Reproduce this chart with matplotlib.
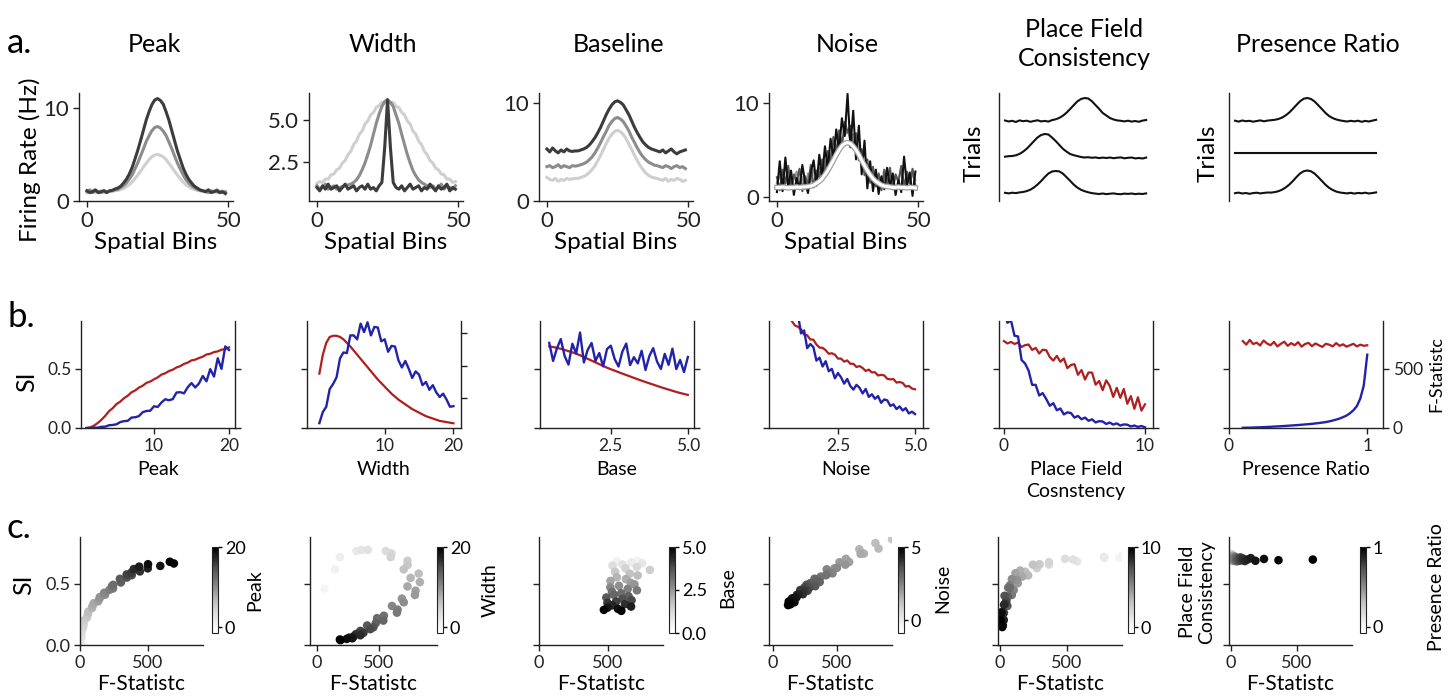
import matplotlib.pyplot as plt
import matplotlib.patheffects as pe
import numpy as np

plt.rcParams['font.family'] = ['Lato', 'DejaVu Sans']
plt.rcParams['axes.linewidth'] = 1.0
plt.rcParams['axes.edgecolor'] = '#222222'

RED = '#b01e1e'
BLUE = '#2222aa'

# ---------------- row a: example tuning curves ----------------
bins = np.arange(50)

peak_dark = [1.1, 0.9, 1.0, 1.2, 0.9, 1.0, 1.1, 0.9, 1.1, 1.15,
             1.3, 1.4, 1.6, 1.95, 2.35, 2.9, 3.6, 4.5, 5.45, 6.5,
             7.6, 8.7, 9.6, 10.35, 10.85, 11.0, 10.8, 10.4, 9.6, 8.7,
             7.6, 6.5, 5.4, 4.5, 3.6, 2.9, 2.35, 1.95, 1.6, 1.4,
             1.2, 1.1, 1.0, 1.2, 0.9, 1.0, 1.1, 0.9, 1.0, 0.8]
peak_mid = [1.0, 1.2, 0.9, 1.1, 1.0, 0.9, 1.1, 1.0, 1.05, 1.1,
            1.2, 1.25, 1.45, 1.65, 1.95, 2.35, 2.8, 3.45, 4.1, 4.85,
            5.6, 6.4, 7.0, 7.55, 7.9, 8.0, 7.85, 7.5, 7.05, 6.35,
            5.65, 4.85, 4.1, 3.45, 2.85, 2.3, 1.95, 1.65, 1.45, 1.25,
            1.15, 1.1, 1.0, 0.9, 1.1, 1.0, 1.2, 1.0, 0.9, 1.0]
peak_light = [0.9, 1.0, 1.1, 0.9, 1.0, 1.1, 0.9, 1.0, 1.0, 1.05,
              1.1, 1.15, 1.25, 1.35, 1.55, 1.75, 2.05, 2.4, 2.8, 3.2,
              3.65, 4.05, 4.45, 4.75, 4.95, 5.0, 4.9, 4.75, 4.45, 4.05,
              3.65, 3.2, 2.8, 2.4, 2.05, 1.75, 1.55, 1.35, 1.25, 1.15,
              1.1, 1.0, 1.1, 0.9, 1.0, 1.1, 0.9, 1.0, 1.1, 0.9]

width_narrow = [1.0, 0.8, 1.1, 0.9, 1.2, 0.9, 1.0, 1.1, 0.8, 1.0,
                1.2, 0.9, 1.0, 1.1, 0.8, 1.0, 1.1, 0.9, 1.2, 0.9,
                1.0, 0.8, 1.1, 1.3, 3.4, 6.2, 3.4, 1.3, 1.0, 0.9,
                1.1, 0.8, 1.0, 1.2, 0.9, 1.0, 1.1, 0.8, 1.0, 0.9,
                1.2, 1.0, 0.8, 1.1, 0.9, 1.0, 1.2, 0.8, 1.0, 0.9]
width_mid = [1.1, 0.9, 1.0, 1.2, 0.9, 1.0, 1.1, 0.9, 1.0, 1.05,
             1.1, 1.15, 1.2, 1.3, 1.45, 1.7, 2.05, 2.45, 2.95, 3.5,
             4.15, 4.8, 5.35, 5.8, 6.1, 6.2, 6.05, 5.8, 5.3, 4.8,
             4.15, 3.55, 2.95, 2.45, 2.0, 1.7, 1.45, 1.3, 1.2, 1.1,
             1.0, 1.1, 0.9, 1.0, 1.2, 0.9, 1.1, 1.0, 0.9, 1.1]
width_wide = [1.25, 1.35, 1.3, 1.5, 1.5, 1.75, 1.8, 2.05, 2.15, 2.45,
              2.6, 2.95, 3.15, 3.55, 3.75, 4.15, 4.35, 4.75, 4.95, 5.3,
              5.45, 5.75, 5.85, 6.05, 6.0, 6.1, 6.0, 6.05, 5.8, 5.75,
              5.45, 5.3, 4.95, 4.75, 4.35, 4.15, 3.75, 3.55, 3.15, 2.95,
              2.6, 2.45, 2.15, 2.05, 1.8, 1.75, 1.5, 1.5, 1.3, 1.35]

base_dark = [5.3, 5.0, 5.4, 5.1, 4.9, 5.2, 5.0, 5.3, 5.1, 5.05,
             5.1, 5.1, 5.2, 5.3, 5.45, 5.7, 6.05, 6.45, 6.95, 7.5,
             8.15, 8.8, 9.35, 9.8, 10.1, 10.2, 10.05, 9.8, 9.3, 8.8,
             8.15, 7.5, 6.95, 6.45, 6.0, 5.7, 5.45, 5.3, 5.2, 5.1,
             5.0, 5.2, 4.9, 5.1, 5.3, 5.0, 4.8, 5.0, 5.1, 5.2]
base_mid = [3.5, 3.6, 3.4, 3.5, 3.7, 3.4, 3.6, 3.5, 3.4, 3.6,
            3.55, 3.6, 3.7, 3.8, 3.95, 4.2, 4.5, 4.9, 5.4, 5.95,
            6.55, 7.1, 7.7, 8.1, 8.4, 8.5, 8.35, 8.1, 7.65, 7.15,
            6.5, 5.95, 5.4, 4.9, 4.5, 4.2, 3.95, 3.8, 3.65, 3.6,
            3.5, 3.4, 3.6, 3.5, 3.3, 3.5, 3.6, 3.4, 3.5, 3.3]
base_light = [2.4, 2.2, 2.1, 2.3, 2.0, 2.2, 2.1, 2.3, 2.2, 2.25,
              2.3, 2.3, 2.4, 2.5, 2.65, 2.9, 3.2, 3.6, 4.1, 4.65,
              5.25, 5.85, 6.4, 6.8, 7.1, 7.2, 7.05, 6.8, 6.35, 5.8,
              5.25, 4.65, 4.1, 3.6, 3.2, 2.85, 2.6, 2.45, 2.35, 2.3,
              2.2, 2.1, 2.3, 2.0, 2.2, 2.1, 2.3, 2.2, 2.0, 2.1]

noise_mean = [1.0, 1.0, 1.05, 1.0, 0.95, 1.0, 1.0, 1.05, 1.0, 1.05,
              1.05, 1.1, 1.15, 1.25, 1.45, 1.65, 1.95, 2.35, 2.8, 3.35,
              3.9, 4.5, 5.0, 5.45, 5.7, 5.8, 5.7, 5.4, 5.0, 4.5,
              3.9, 3.35, 2.8, 2.35, 1.95, 1.65, 1.45, 1.25, 1.15, 1.1,
              1.05, 1.0, 1.0, 1.05, 1.0, 1.0, 0.95, 1.0, 1.0, 0.95]
noise_black = [0.5, 3.8, 0.6, 4.2, 1.0, 2.8, 0.2, 2.0, 0.8, 3.4,
               1.5, 0.4, 2.6, 3.9, 1.2, 4.5, 2.0, 5.4, 3.0, 6.2,
               4.1, 7.2, 5.0, 8.4, 6.5, 11.0, 5.3, 9.2, 4.0, 7.6,
               2.4, 6.0, 0.9, 3.8, 0.6, 2.9, 0.3, 2.2, 0.8, 3.1,
               1.1, 2.5, 0.2, 1.8, 0.5, 4.3, 1.2, 2.6, 0.1, 2.7]
noise_dark = [2.1, 0.7, 2.9, 1.4, 3.3, 0.9, 2.4, 1.6, 3.0, 0.6,
              2.2, 1.3, 3.4, 1.0, 2.8, 2.1, 4.0, 2.6, 4.9, 3.7,
              6.4, 4.6, 7.1, 5.3, 8.0, 6.9, 7.6, 5.2, 6.8, 3.9,
              5.1, 2.3, 4.0, 1.5, 3.2, 1.1, 2.5, 0.7, 2.9, 1.3,
              3.1, 0.8, 2.4, 1.6, 3.3, 1.0, 2.7, 1.4, 3.0, 1.2]
noise_gray = [1.5, 2.4, 0.9, 1.8, 2.6, 1.1, 1.9, 2.7, 1.2, 2.1,
              0.8, 2.5, 1.6, 2.9, 2.2, 3.1, 2.7, 3.8, 3.4, 4.5,
              4.8, 5.4, 5.9, 6.3, 6.6, 7.0, 6.2, 6.7, 5.4, 5.0,
              4.2, 3.6, 3.0, 2.5, 2.8, 1.7, 2.4, 1.2, 2.1, 1.6,
              2.6, 1.3, 2.2, 1.8, 2.9, 1.1, 2.0, 1.5, 2.4, 1.8]

# single-trial traces, already stacked (arbitrary units)
trial_idx = np.arange(40)
pfc_trial1 = [80.5, 79.5, 80.2, 79.0, 80.6, 79.8, 80.3, 79.2, 80.0, 80.7,
              79.6, 80.1, 79.4, 80.9, 81.7, 83.1, 85.3, 88.3, 92.0, 95.9,
              99.6, 102.0, 103.0, 102.5, 99.8, 96.0, 92.2, 88.0, 85.5, 83.0,
              81.5, 80.6, 80.2, 79.6, 80.3, 79.4, 80.0, 79.2, 80.4, 81.0]
pfc_trial2 = [44.3, 44.8, 45.0, 45.7, 47.1, 49.3, 52.3, 56.0, 59.9, 63.6,
              66.0, 67.0, 66.5, 63.4, 60.0, 56.1, 52.2, 49.4, 47.0, 45.8,
              44.9, 44.0, 43.5, 43.8, 43.2, 43.6, 42.9, 43.4, 43.0, 43.5,
              42.8, 43.3, 43.6, 42.7, 43.2, 43.5, 42.6, 43.0, 42.5, 43.4]
pfc_trial3 = [8.2, 7.6, 8.3, 7.9, 8.6, 9.0, 9.9, 11.3, 13.5, 16.5,
              20.0, 24.0, 27.5, 29.5, 30.0, 29.6, 27.4, 23.8, 20.2, 16.4,
              13.4, 11.2, 9.8, 8.7, 7.9, 7.4, 7.0, 7.5, 6.9, 7.3,
              7.6, 7.0, 6.8, 7.4, 7.1, 7.5, 6.9, 7.3, 7.0, 7.6]
pr_trial1 = [80.3, 79.4, 80.5, 79.8, 80.2, 79.3, 80.0, 80.6, 79.7, 80.4,
             80.8, 81.2, 82.0, 83.4, 85.6, 88.5, 92.2, 96.1, 99.8, 102.3,
             103.0, 102.0, 99.5, 95.8, 92.0, 88.1, 85.0, 82.9, 81.5, 80.6,
             80.0, 79.5, 80.2, 79.6, 80.3, 79.2, 80.1, 79.5, 80.4, 81.2]
pr_trial2 = [48.0, 48.0, 48.0, 48.0, 48.0, 48.0, 48.0, 48.0, 48.0, 48.0,
             48.0, 48.0, 48.0, 48.0, 48.0, 48.0, 48.0, 48.0, 48.0, 48.0,
             48.0, 48.0, 48.0, 48.0, 48.0, 48.0, 48.0, 48.0, 48.0, 48.0,
             48.0, 48.0, 48.0, 48.0, 48.0, 48.0, 48.0, 48.0, 48.0, 48.0]
pr_trial3 = [7.8, 8.4, 7.5, 8.0, 7.2, 7.9, 8.3, 7.6, 8.1, 8.5,
             8.4, 8.9, 9.8, 11.3, 13.5, 16.4, 20.0, 24.0, 27.6, 29.8,
             30.5, 29.7, 27.4, 23.9, 20.1, 16.3, 13.2, 11.0, 9.4, 8.5,
             8.0, 7.6, 8.2, 7.4, 8.1, 7.7, 8.3, 7.5, 8.0, 8.6]

# ---------------- row b / c: SI and F-statistic sweeps ----------------
peak_x = [1.0, 1.5, 2.0, 2.5, 3.0, 3.5, 4.0, 4.5, 5.0, 5.5, 6.0, 6.5, 7.0,
          7.5, 8.0, 8.5, 9.0, 9.5, 10.0, 10.5, 11.0, 11.5, 12.0, 12.5, 13.0,
          13.5, 14.0, 14.5, 15.0, 15.5, 16.0, 16.5, 17.0, 17.5, 18.0, 18.5,
          19.0, 19.5, 20.0]
peak_si = [0.0, 0.005, 0.02, 0.042, 0.07, 0.103, 0.142, 0.168, 0.202, 0.223,
           0.252, 0.273, 0.302, 0.318, 0.342, 0.358, 0.382, 0.393, 0.412,
           0.428, 0.452, 0.463, 0.482, 0.493, 0.512, 0.523, 0.542, 0.553,
           0.572, 0.578, 0.592, 0.603, 0.622, 0.628, 0.642, 0.648, 0.662,
           0.668, 0.682]
peak_f = [0, 1, 3, 3, 10, 11, 23, 26, 31, 50, 58, 61, 88, 91, 101, 134, 144,
          146, 184, 178, 216, 243, 235, 244, 300, 303, 293, 345, 380, 343,
          377, 440, 395, 498, 435, 590, 500, 690, 660]

width_x = [0.5, 1.0, 1.5, 2.0, 2.5, 3.0, 3.5, 4.0, 4.5, 5.0, 5.5, 6.0, 6.5,
           7.0, 7.5, 8.0, 8.5, 9.0, 9.5, 10.0, 10.5, 11.0, 11.5, 12.0, 12.5,
           13.0, 13.5, 14.0, 14.5, 15.0, 15.5, 16.0, 16.5, 17.0, 17.5, 18.0,
           18.5, 19.0, 19.5, 20.0]
width_si = [0.46, 0.62, 0.72, 0.77, 0.78, 0.78, 0.77, 0.75, 0.72, 0.69,
            0.655, 0.62, 0.585, 0.55, 0.515, 0.48, 0.445, 0.41, 0.38, 0.35,
            0.32, 0.29, 0.265, 0.24, 0.22, 0.20, 0.18, 0.16, 0.145, 0.13,
            0.115, 0.10, 0.09, 0.08, 0.07, 0.06, 0.055, 0.05, 0.045, 0.04]
width_f = [60, 145, 185, 320, 360, 410, 555, 600, 595, 730, 730, 700, 820,
           755, 830, 730, 795, 790, 685, 700, 605, 650, 645, 540, 485, 535,
           475, 405, 455, 430, 350, 375, 315, 350, 295, 260, 285, 240, 185, 190]

base_x = [0.5, 0.625, 0.75, 0.875, 1.0, 1.125, 1.25, 1.375, 1.5, 1.625,
          1.75, 1.875, 2.0, 2.125, 2.25, 2.375, 2.5, 2.625, 2.75, 2.875,
          3.0, 3.125, 3.25, 3.375, 3.5, 3.625, 3.75, 3.875, 4.0, 4.125,
          4.25, 4.375, 4.5, 4.625, 4.75, 4.875, 5.0]
base_si = [0.69, 0.685, 0.678, 0.67, 0.66, 0.65, 0.64, 0.628, 0.615, 0.60,
           0.585, 0.57, 0.555, 0.54, 0.525, 0.51, 0.497, 0.485, 0.472, 0.46,
           0.448, 0.436, 0.424, 0.412, 0.40, 0.389, 0.378, 0.367, 0.356,
           0.345, 0.335, 0.325, 0.315, 0.305, 0.296, 0.288, 0.28]
base_f = [720, 567, 674, 752, 609, 536, 713, 631, 808, 555, 662, 719, 567,
          634, 521, 668, 696, 583, 520, 647, 714, 532, 599, 546, 653, 491,
          608, 675, 562, 499, 627, 534, 671, 498, 576, 473, 600]

noise_x = [1.0, 1.1, 1.2, 1.3, 1.4, 1.5, 1.6, 1.7, 1.8, 1.9, 2.0, 2.1, 2.2,
           2.3, 2.4, 2.5, 2.6, 2.7, 2.8, 2.9, 3.0, 3.1, 3.2, 3.3, 3.4, 3.5,
           3.6, 3.7, 3.8, 3.9, 4.0, 4.1, 4.2, 4.3, 4.4, 4.5, 4.6, 4.7, 4.8,
           4.9, 5.0]
noise_si = [0.905, 0.867, 0.856, 0.835, 0.79, 0.784, 0.749, 0.747, 0.706,
            0.68, 0.678, 0.658, 0.628, 0.632, 0.62, 0.587, 0.587, 0.561,
            0.572, 0.543, 0.543, 0.516, 0.524, 0.507, 0.482, 0.494, 0.47,
            0.472, 0.444, 0.45, 0.445, 0.416, 0.411, 0.414, 0.384, 0.389,
            0.381, 0.35, 0.356, 0.334, 0.327]
noise_f = [1090, 930, 960, 800, 825, 675, 710, 685, 570, 595, 520, 565, 480,
           500, 420, 465, 428, 375, 415, 355, 325, 365, 340, 292, 330, 263,
           285, 247, 270, 213, 241, 234, 187, 200, 160, 183, 148, 168, 123,
           138, 118]

pfc_x = [0.0, 0.25, 0.5, 0.75, 1.0, 1.25, 1.5, 1.75, 2.0, 2.25, 2.5, 2.75,
         3.0, 3.25, 3.5, 3.75, 4.0, 4.25, 4.5, 4.75, 5.0, 5.25, 5.5, 5.75,
         6.0, 6.25, 6.5, 6.75, 7.0, 7.25, 7.5, 7.75, 8.0, 8.25, 8.5, 8.75,
         9.0, 9.25, 9.5, 9.75, 10.0]
pfc_si = [0.735, 0.715, 0.728, 0.711, 0.722, 0.685, 0.701, 0.706, 0.66,
          0.678, 0.63, 0.662, 0.658, 0.60, 0.57, 0.61, 0.56, 0.588, 0.506,
          0.533, 0.54, 0.45, 0.49, 0.41, 0.47, 0.468, 0.366, 0.398, 0.32,
          0.403, 0.356, 0.263, 0.34, 0.255, 0.33, 0.205, 0.27, 0.162, 0.26,
          0.147, 0.2]
pfc_f = [1000, 890, 910, 780, 775, 575, 545, 485, 365, 365, 275, 295, 245,
         188, 210, 150, 165, 115, 132, 127, 88, 102, 74, 88, 61, 73, 47, 58,
         55, 34, 46, 29, 39, 21, 30, 28, 13, 21, 9, 17, 6]

pr_x = [0.1, 0.125, 0.15, 0.175, 0.2, 0.225, 0.25, 0.275, 0.3, 0.325, 0.35,
        0.375, 0.4, 0.425, 0.45, 0.475, 0.5, 0.525, 0.55, 0.575, 0.6, 0.625,
        0.65, 0.675, 0.7, 0.725, 0.75, 0.775, 0.8, 0.825, 0.85, 0.875, 0.9,
        0.925, 0.95, 0.975, 1.0]
pr_si = [0.735, 0.705, 0.745, 0.71, 0.722, 0.698, 0.74, 0.715, 0.70, 0.728,
         0.69, 0.712, 0.73, 0.695, 0.718, 0.70, 0.726, 0.688, 0.71, 0.72,
         0.692, 0.715, 0.70, 0.686, 0.712, 0.705, 0.69, 0.718, 0.695, 0.708,
         0.688, 0.70, 0.712, 0.69, 0.705, 0.695, 0.70]
pr_f = [2, 2.5, 3, 4, 5, 6, 7.5, 9, 10, 12, 13.5, 15, 17, 19, 21, 23, 25,
        27.5, 30, 32.5, 35, 38.5, 42, 46, 50, 56, 63, 71, 80, 92, 105, 125,
        150, 185, 250, 360, 620]

titles = ['Peak', 'Width', 'Baseline', 'Noise', 'Place Field\nConsistency',
          'Presence Ratio']
b_xlabels = ['Peak', 'Width', 'Base', 'Noise', 'Place Field\nCosnstency',
             'Presence Ratio']
cbar_labels = ['Peak', 'Width', 'Base', 'Noise', 'Place Field\nConsistency',
               'Presence Ratio']

W, H = 1456, 700
fig = plt.figure(figsize=(W / 100, H / 100), dpi=100)


def px_axes(left, top, width, height):
    return fig.add_axes([left / W, 1 - (top + height) / H, width / W, height / H])


def style(ax, size):
    ax.spines['top'].set_visible(False)
    ax.spines['right'].set_visible(False)
    ax.tick_params(length=4, width=1, labelsize=size, colors='#222222', pad=3)


# ---------- row a ----------
a_left = [79, 309, 539, 769, 999, 1229]
axa = [px_axes(l, 93, 154, 108) for l in a_left]
light, mid, dark = '#cfcfcf', '#8c8c8c', '#3c3c3c'

for ax, curves in zip(axa[:3], [(peak_light, peak_mid, peak_dark),
                                (width_wide, width_mid, width_narrow),
                                (base_light, base_mid, base_dark)]):
    for y, col in zip(curves, [light, mid, dark]):
        ax.plot(bins, y, color=col, lw=2.2)

ax = axa[3]
ax.plot(bins, noise_gray, color='#9a9a9a', lw=1.5)
ax.plot(bins, noise_dark, color='#555555', lw=1.5)
ax.plot(bins, noise_black, color='#111111', lw=1.5)
ax.plot(bins, noise_mean, color='white', lw=2.2,
        path_effects=[pe.Stroke(linewidth=4, foreground='#a0a0a0'), pe.Normal()])

a_ylims = [(0, 11.6), (0.2, 6.6), (0, 11), (-0.45, 11.1)]
a_yticks = [[0, 10], [2.5, 5.0], [0, 10], [0, 10]]
for ax, yl, yt in zip(axa[:4], a_ylims, a_yticks):
    style(ax, 16)
    ax.set_xlim(-2.8, 51.7)
    ax.set_ylim(*yl)
    ax.set_xticks([0, 50])
    ax.set_yticks(yt)
    ax.set_xlabel('Spatial Bins', fontsize=17.5, labelpad=1)

for ax, trials in zip(axa[4:], [(pfc_trial1, pfc_trial2, pfc_trial3),
                                (pr_trial1, pr_trial2, pr_trial3)]):
    for y in trials:
        ax.plot(trial_idx, y, color='#111111', lw=1.5)
    style(ax, 16)
    ax.spines['bottom'].set_visible(False)
    ax.set_xlim(-1.66, 40.9)
    ax.set_ylim(0, 108)
    ax.set_xticks([])
    ax.set_yticks([])

title_x = [154, 383, 619, 847, 1084, 1318]
for tx, t in zip(title_x, titles):
    fig.text(tx / W, 1 - 44 / H, t, ha='center', va='center', fontsize=18,
             linespacing=1.35)
fig.text(30 / W, 1 - 160 / H, 'Firing Rate (Hz)', rotation=90, ha='center',
         va='center', fontsize=17.5)
for tx in [974, 1208]:
    fig.text(tx / W, 1 - 153 / H, 'Trials', rotation=90, ha='center',
             va='center', fontsize=17.5)

# ---------- row b ----------
sweeps = [(peak_x, peak_si, peak_f), (width_x, width_si, width_f),
          (base_x, base_si, base_f), (noise_x, noise_si, noise_f),
          (pfc_x, pfc_si, pfc_f), (pr_x, pr_si, pr_f)]
b_left = [81, 307, 540, 769, 999, 1229]
b_xlims = [(0.27, 20.8), (-1.3, 21.1), (0.2, 5.2), (0.26, 5.26),
           (-0.35, 10.57), (0.014, 1.114)]
b_xticks = [[10, 20], [10, 20], [2.5, 5.0], [2.5, 5.0], [0, 10], [0, 1]]

for i, (l, (x, si, f)) in enumerate(zip(b_left, sweeps)):
    ax = px_axes(l, 321, 154, 107)
    ax2 = ax.twinx()
    ax.plot(x, si, color=RED, lw=1.6)
    ax2.plot(x, f, color=BLUE, lw=1.7)
    style(ax, 12.5)
    ax2.spines['top'].set_visible(False)
    ax2.spines['left'].set_visible(False)
    ax2.spines['bottom'].set_visible(False)
    ax2.tick_params(length=4, width=1, labelsize=12.5, colors='#222222', pad=3)
    ax.set_xlim(*b_xlims[i])
    ax.set_xticks(b_xticks[i])
    ax.set_ylim(0, 0.905)
    ax.set_yticks([0, 0.5])
    if i == 1:
        ax2.set_ylim(23, 840)
        ax2.set_yticks([250, 500, 750])
    else:
        ax2.set_ylim(0, 905)
        ax2.set_yticks([0, 500])
    if i > 0:
        ax.set_yticklabels([])
    if i < 5:
        ax2.set_yticklabels([])
    else:
        ax2.set_ylabel('F-Statistc', fontsize=13, labelpad=4)
    ax.set_xlabel(b_xlabels[i], fontsize=14, labelpad=5, linespacing=1.4)

fig.text(27 / W, 1 - 382 / H, 'SI', rotation=90, ha='center', va='center',
         fontsize=18)

# ---------- row c ----------
c_left = [80, 310, 539, 769, 998, 1229]
c_width = [123, 127, 124, 123, 124, 123]
c_xlims = [(0, 904), (-56, 968), (0, 904), (-31, 930), (-15, 910), (-15, 917)]
cbar_x = [212, 437, 669, 898, 1128, 1360]
c_vrange = [(-1.5, 20), (-1.5, 20), (0, 5), (-0.87, 5), (-0.7, 10), (-0.08, 1)]
c_cticks = [[0, 20], [0, 20], [0, 2.5, 5.0], [0, 5], [0, 10], [0, 1]]
cbar_label_pos = [(255, 590), (490, 590), (728, 588), (943, 588), (1197, 592),
                  (1437, 587)]

for i, (x, si, f) in enumerate(sweeps):
    ax = px_axes(c_left[i], 537, c_width[i], 108)
    sc = ax.scatter(f, si, c=x, cmap='Greys', vmin=c_vrange[i][0],
                    vmax=c_vrange[i][1], s=38, edgecolors='none')
    style(ax, 13)
    ax.set_xlim(*c_xlims[i])
    ax.set_ylim(0, 0.885)
    ax.set_xticks([0, 500])
    ax.set_yticks([0, 0.5])
    if i > 0:
        ax.set_yticklabels([])
    ax.set_xlabel('F-Statistc', fontsize=15, labelpad=2)

    cax = px_axes(cbar_x[i], 547, 6, 86)
    cb = fig.colorbar(sc, cax=cax, ticks=c_cticks[i])
    cb.outline.set_linewidth(0.8)
    cb.ax.tick_params(labelsize=13, length=3, width=1, pad=2)
    lx, ly = cbar_label_pos[i]
    fig.text(lx / W, 1 - ly / H, cbar_labels[i], rotation=90, ha='center',
             va='center', fontsize=14, linespacing=1.2)

fig.text(24 / W, 1 - 585 / H, 'SI', rotation=90, ha='center', va='center',
         fontsize=18)

# panel letters
fig.text(7 / W, 1 - 53 / H, 'a.', fontsize=25, va='baseline')
fig.text(7 / W, 1 - 327 / H, 'b.', fontsize=25, va='baseline')
fig.text(7 / W, 1 - 538 / H, 'c.', fontsize=25, va='baseline')

fig.savefig('out.png', dpi=100)
